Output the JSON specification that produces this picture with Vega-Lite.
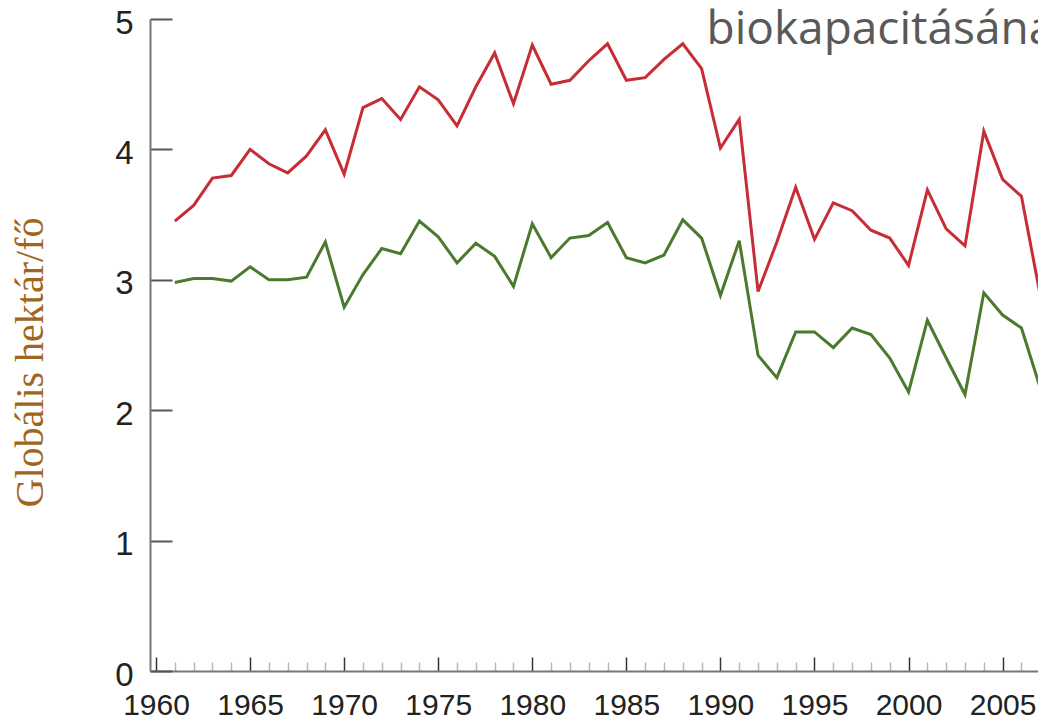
{
  "$schema": "https://vega.github.io/schema/vega-lite/v6.json",
  "width": 888,
  "height": 652,
  "autosize": {"type": "none"},
  "padding": {"left": 150, "top": 19, "right": 0, "bottom": 50},
  "background": "white",
  "config": {"view": {"stroke": null}},
  "data": {"values": [
    {"year": 1961, "series": "Ökológiai lábnyom", "value": 3.45}, {"year": 1962, "series": "Ökológiai lábnyom", "value": 3.57}, {"year": 1963, "series": "Ökológiai lábnyom", "value": 3.78}, {"year": 1964, "series": "Ökológiai lábnyom", "value": 3.80}, {"year": 1965, "series": "Ökológiai lábnyom", "value": 4.00}, {"year": 1966, "series": "Ökológiai lábnyom", "value": 3.89}, {"year": 1967, "series": "Ökológiai lábnyom", "value": 3.82}, {"year": 1968, "series": "Ökológiai lábnyom", "value": 3.95}, {"year": 1969, "series": "Ökológiai lábnyom", "value": 4.15}, {"year": 1970, "series": "Ökológiai lábnyom", "value": 3.81},
    {"year": 1971, "series": "Ökológiai lábnyom", "value": 4.32}, {"year": 1972, "series": "Ökológiai lábnyom", "value": 4.39}, {"year": 1973, "series": "Ökológiai lábnyom", "value": 4.23}, {"year": 1974, "series": "Ökológiai lábnyom", "value": 4.48}, {"year": 1975, "series": "Ökológiai lábnyom", "value": 4.38}, {"year": 1976, "series": "Ökológiai lábnyom", "value": 4.18}, {"year": 1977, "series": "Ökológiai lábnyom", "value": 4.48}, {"year": 1978, "series": "Ökológiai lábnyom", "value": 4.74}, {"year": 1979, "series": "Ökológiai lábnyom", "value": 4.35}, {"year": 1980, "series": "Ökológiai lábnyom", "value": 4.80},
    {"year": 1981, "series": "Ökológiai lábnyom", "value": 4.50}, {"year": 1982, "series": "Ökológiai lábnyom", "value": 4.53}, {"year": 1983, "series": "Ökológiai lábnyom", "value": 4.68}, {"year": 1984, "series": "Ökológiai lábnyom", "value": 4.81}, {"year": 1985, "series": "Ökológiai lábnyom", "value": 4.53}, {"year": 1986, "series": "Ökológiai lábnyom", "value": 4.55}, {"year": 1987, "series": "Ökológiai lábnyom", "value": 4.69}, {"year": 1988, "series": "Ökológiai lábnyom", "value": 4.81}, {"year": 1989, "series": "Ökológiai lábnyom", "value": 4.62}, {"year": 1990, "series": "Ökológiai lábnyom", "value": 4.01},
    {"year": 1991, "series": "Ökológiai lábnyom", "value": 4.23}, {"year": 1992, "series": "Ökológiai lábnyom", "value": 2.91}, {"year": 1993, "series": "Ökológiai lábnyom", "value": 3.29}, {"year": 1994, "series": "Ökológiai lábnyom", "value": 3.71}, {"year": 1995, "series": "Ökológiai lábnyom", "value": 3.31}, {"year": 1996, "series": "Ökológiai lábnyom", "value": 3.59}, {"year": 1997, "series": "Ökológiai lábnyom", "value": 3.53}, {"year": 1998, "series": "Ökológiai lábnyom", "value": 3.38}, {"year": 1999, "series": "Ökológiai lábnyom", "value": 3.32}, {"year": 2000, "series": "Ökológiai lábnyom", "value": 3.11},
    {"year": 2001, "series": "Ökológiai lábnyom", "value": 3.69}, {"year": 2002, "series": "Ökológiai lábnyom", "value": 3.39}, {"year": 2003, "series": "Ökológiai lábnyom", "value": 3.26}, {"year": 2004, "series": "Ökológiai lábnyom", "value": 4.14}, {"year": 2005, "series": "Ökológiai lábnyom", "value": 3.77}, {"year": 2006, "series": "Ökológiai lábnyom", "value": 3.64}, {"year": 2007, "series": "Ökológiai lábnyom", "value": 2.88},
    {"year": 1961, "series": "Biokapacitás", "value": 2.98}, {"year": 1962, "series": "Biokapacitás", "value": 3.01}, {"year": 1963, "series": "Biokapacitás", "value": 3.01}, {"year": 1964, "series": "Biokapacitás", "value": 2.99}, {"year": 1965, "series": "Biokapacitás", "value": 3.10}, {"year": 1966, "series": "Biokapacitás", "value": 3.00}, {"year": 1967, "series": "Biokapacitás", "value": 3.00}, {"year": 1968, "series": "Biokapacitás", "value": 3.02}, {"year": 1969, "series": "Biokapacitás", "value": 3.29}, {"year": 1970, "series": "Biokapacitás", "value": 2.79},
    {"year": 1971, "series": "Biokapacitás", "value": 3.04}, {"year": 1972, "series": "Biokapacitás", "value": 3.24}, {"year": 1973, "series": "Biokapacitás", "value": 3.20}, {"year": 1974, "series": "Biokapacitás", "value": 3.45}, {"year": 1975, "series": "Biokapacitás", "value": 3.33}, {"year": 1976, "series": "Biokapacitás", "value": 3.13}, {"year": 1977, "series": "Biokapacitás", "value": 3.28}, {"year": 1978, "series": "Biokapacitás", "value": 3.18}, {"year": 1979, "series": "Biokapacitás", "value": 2.95}, {"year": 1980, "series": "Biokapacitás", "value": 3.43},
    {"year": 1981, "series": "Biokapacitás", "value": 3.17}, {"year": 1982, "series": "Biokapacitás", "value": 3.32}, {"year": 1983, "series": "Biokapacitás", "value": 3.34}, {"year": 1984, "series": "Biokapacitás", "value": 3.44}, {"year": 1985, "series": "Biokapacitás", "value": 3.17}, {"year": 1986, "series": "Biokapacitás", "value": 3.13}, {"year": 1987, "series": "Biokapacitás", "value": 3.19}, {"year": 1988, "series": "Biokapacitás", "value": 3.46}, {"year": 1989, "series": "Biokapacitás", "value": 3.32}, {"year": 1990, "series": "Biokapacitás", "value": 2.88},
    {"year": 1991, "series": "Biokapacitás", "value": 3.30}, {"year": 1992, "series": "Biokapacitás", "value": 2.42}, {"year": 1993, "series": "Biokapacitás", "value": 2.25}, {"year": 1994, "series": "Biokapacitás", "value": 2.60}, {"year": 1995, "series": "Biokapacitás", "value": 2.60}, {"year": 1996, "series": "Biokapacitás", "value": 2.48}, {"year": 1997, "series": "Biokapacitás", "value": 2.63}, {"year": 1998, "series": "Biokapacitás", "value": 2.58}, {"year": 1999, "series": "Biokapacitás", "value": 2.40}, {"year": 2000, "series": "Biokapacitás", "value": 2.14},
    {"year": 2001, "series": "Biokapacitás", "value": 2.69}, {"year": 2002, "series": "Biokapacitás", "value": 2.40}, {"year": 2003, "series": "Biokapacitás", "value": 2.12}, {"year": 2004, "series": "Biokapacitás", "value": 2.90}, {"year": 2005, "series": "Biokapacitás", "value": 2.73}, {"year": 2006, "series": "Biokapacitás", "value": 2.63}, {"year": 2007, "series": "Biokapacitás", "value": 2.17}
  ]},
  "resolve": {"axis": {"x": "independent", "y": "independent"}},
  "layer": [
    {
      "mark": {"type": "line", "opacity": 0, "clip": true},
      "encoding": {
        "x": {"field": "year", "type": "quantitative", "scale": {"domain": [1959.68, 2006.88], "nice": false, "zero": false},
              "axis": {"orient": "bottom", "values": [1961,1962,1963,1964,1966,1967,1968,1969,1971,1972,1973,1974,1976,1977,1978,1979,1981,1982,1983,1984,1986,1987,1988,1989,1991,1992,1993,1994,1996,1997,1998,1999,2001,2002,2003,2004,2006],
                       "labels": false, "domain": false, "grid": false, "tickSize": -9, "tickColor": "#b8b8b8", "tickWidth": 1.5,
                       "title": "biokapacitásána", "titleFont": "Open Sans", "titleFontSize": 46, "titleFontWeight": "normal", "titleColor": "#595959",
                       "titleAngle": 0, "titleX": 556, "titleY": -628, "titleAlign": "left", "titleBaseline": "alphabetic"}},
        "y": {"field": "value", "type": "quantitative", "scale": {"domain": [0, 5], "nice": false}, "axis": null},
        "detail": {"field": "series"}
      }
    },
    {
      "mark": {"type": "line", "strokeWidth": 3, "clip": true},
      "encoding": {
        "x": {"field": "year", "type": "quantitative",
              "axis": {"orient": "bottom", "values": [1960,1965,1970,1975,1980,1985,1990,1995,2000,2005], "format": "d", "title": null, "grid": false,
                       "domain": true, "domainColor": "#777", "domainWidth": 2, "tickSize": -14, "tickColor": "#333", "tickWidth": 1.5,
                       "labelFont": "Liberation Sans", "labelFontSize": 30, "labelColor": "#222", "labelPadding": 33, "labelFlush": false, "labelOverlap": false}},
        "y": {"field": "value", "type": "quantitative",
              "axis": {"orient": "left", "values": [0,1,2,3,4,5], "grid": false, "domain": true, "domainColor": "#777", "domainWidth": 2,
                       "tickSize": -22, "tickColor": "#555", "tickWidth": 2,
                       "labelFont": "Liberation Sans", "labelFontSize": 33, "labelColor": "#222", "labelPadding": 39, "labelOffset": 4,
                       "title": "Globális hektár/fő", "titleFont": "Liberation Serif", "titleFontSize": 40, "titleFontWeight": "normal", "titleColor": "#a0661c",
                       "titleAngle": -90, "titleX": -108, "titleY": 343, "titleAlign": "center", "titleBaseline": "alphabetic"}},
        "color": {"field": "series", "type": "nominal", "scale": {"domain": ["Ökológiai lábnyom", "Biokapacitás"], "range": ["#c62d35", "#4b7a2f"]}, "legend": null}
      }
    }
  ]
}
